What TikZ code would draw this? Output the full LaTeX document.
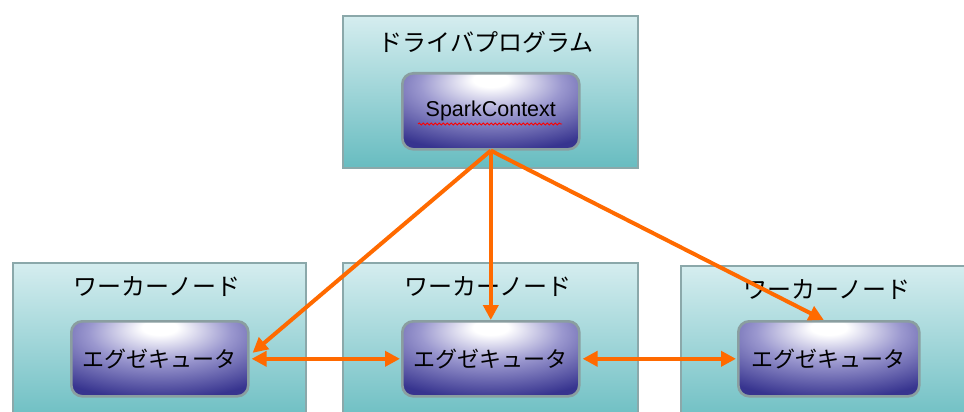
\documentclass[tikz,border=0pt]{standalone}
\usepackage{fontspec}
\setmainfont{Liberation Sans}
\newfontfamily\jpfont{Noto Sans CJK JP}
\usetikzlibrary{arrows.meta,decorations.pathmorphing}

\definecolor{hosttop}{HTML}{D5EDEF}
\definecolor{hostmid}{HTML}{C4E4E6}
\definecolor{hostbot}{HTML}{67BCC0}
\definecolor{hostedge}{HTML}{8BA8AA}
\definecolor{execedge}{HTML}{8A9EA0}
\definecolor{execdark}{HTML}{37348F}
\definecolor{execmid}{HTML}{9B98CF}
\definecolor{flow}{HTML}{FF6A00}

% glossy executor fill: bright spot near the top centre, dark blue rim
\pgfdeclareradialshading{execshade}{\pgfpoint{0bp}{22bp}}{%
  color(0bp)=(white); color(5bp)=(white);
  color(20bp)=(execmid); color(40bp)=(execdark); color(100bp)=(execdark)}

\tikzset{
  x=1pt, y=1pt,
  hostbox/.style={rectangle, draw=hostedge, line width=2.2pt, inner sep=0pt,
    anchor=north west, top color=hosttop, middle color=hostmid, bottom color=hostbot},
  hosttitle/.style={font=\jpfont\fontsize{24}{27}\selectfont, text=black},
  execbox/.style={rectangle, rounded corners=11pt, draw=execedge, line width=2.6pt,
    inner sep=0pt, anchor=north west, shading=execshade,
    font=\jpfont\fontsize{22}{25}\selectfont, text=black},
  flowline/.style={draw=flow, line width=4pt,
    arrows={-{Triangle[length=15pt,width=15pt]}}},
  flowboth/.style={draw=flow, line width=4pt,
    arrows={{Triangle[length=15pt,width=15pt]}-{Triangle[length=15pt,width=15pt]}}},
}

\begin{document}
\begin{tikzpicture}
\useasboundingbox (0,0) rectangle (964,-412);

% driver program
\node[hostbox, minimum width=295pt, minimum height=152pt] (drv) at (342,-15) {};
\node[hosttitle] (drvtitle) at (486,-42) {ドライバプログラム};
\node[execbox, minimum width=177pt, minimum height=76pt,
      font=\fontsize{21.5}{24}\selectfont] (sc) at (401,-72) {SparkContext};
\draw[red, line width=0.8pt, decorate,
      decoration={snake, amplitude=1.1pt, segment length=4pt}]
  (418,-124) -- (562,-124);

% worker nodes
\node[hostbox, minimum width=293pt, minimum height=165pt] (wL) at (12,-262) {};
\node[hostbox, minimum width=295pt, minimum height=165pt] (wM) at (342,-262) {};
\node[hostbox, minimum width=300pt, minimum height=165pt] (wR) at (680,-265) {};
\node[hosttitle] (wLt) at (157,-287) {ワーカーノード};
\node[hosttitle] (wMt) at (488,-287) {ワーカーノード};
\node[hosttitle] (wRt) at (827,-290) {ワーカーノード};

% executors
\node[execbox, minimum width=177pt, minimum height=75pt] (exL) at (70,-320) {エグゼキュータ};
\node[execbox, minimum width=177pt, minimum height=75pt] (exM) at (401,-320) {エグゼキュータ};
\node[execbox, minimum width=181pt, minimum height=75pt] (exR) at (737,-320) {エグゼキュータ};

% task dispatch from the driver
\draw[flowline] (sc.south) -- ([xshift=3pt,yshift=6pt]exL.east);
\draw[flowline] (sc.south) -- (exM.north);
\draw[flowline] (sc.south) -- ([xshift=-5pt]exR.north);

% executor to executor exchange
\draw[flowboth] ([xshift=2pt]exL.east) -- ([xshift=-1pt]exM.west);
\draw[flowboth] ([xshift=2pt]exM.east) -- ([xshift=-1pt]exR.west);
\end{tikzpicture}
\end{document}
